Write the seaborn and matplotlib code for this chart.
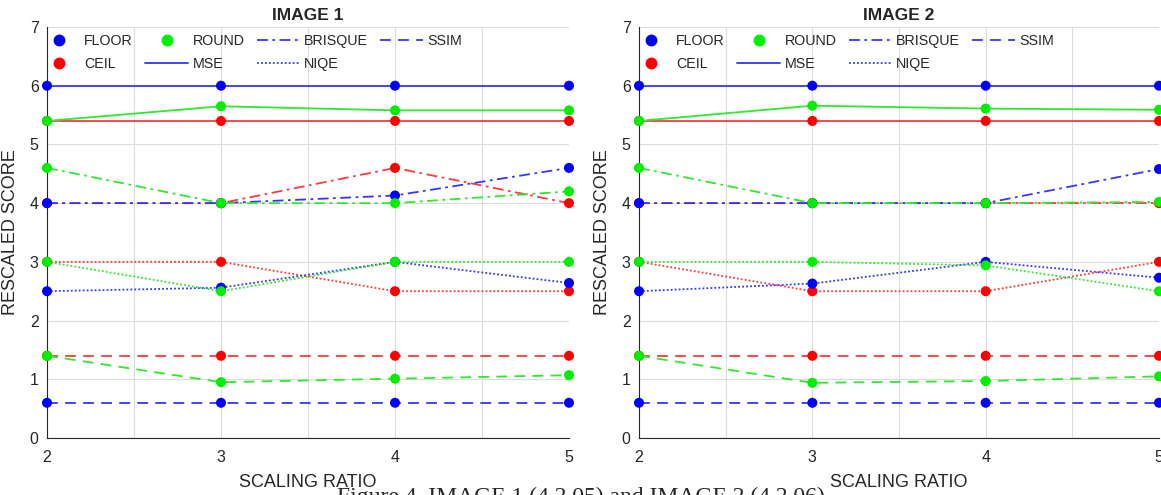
import numpy as np
import seaborn as sns
import pandas as pd
import matplotlib.pyplot as plt
from matplotlib.lines import Line2D
from matplotlib.ticker import MultipleLocator


# scaling ratios on x axis
ratios = [2, 3, 4, 5]

# IMAGE 1 (4.2.05)
img1_floor_mse = [6.0, 6.0, 6.0, 6.0]
img1_ceil_mse = [5.4, 5.4, 5.4, 5.4]
img1_round_mse = [5.4, 5.65, 5.58, 5.58]
img1_floor_brisque = [4.0, 4.0, 4.13, 4.6]
img1_ceil_brisque = [4.0, 4.0, 4.6, 4.0]
img1_round_brisque = [4.6, 4.0, 4.0, 4.2]
img1_floor_niqe = [2.5, 2.56, 3.0, 2.64]
img1_ceil_niqe = [3.0, 3.0, 2.5, 2.5]
img1_round_niqe = [3.0, 2.5, 3.0, 3.0]
img1_floor_ssim = [0.6, 0.6, 0.6, 0.6]
img1_ceil_ssim = [1.4, 1.4, 1.4, 1.4]
img1_round_ssim = [1.4, 0.95, 1.01, 1.07]

# IMAGE 2 (4.2.06)
img2_floor_mse = [6.0, 6.0, 6.0, 6.0]
img2_ceil_mse = [5.4, 5.4, 5.4, 5.4]
img2_round_mse = [5.4, 5.66, 5.61, 5.59]
img2_floor_brisque = [4.0, 4.0, 4.0, 4.58]
img2_ceil_brisque = [4.0, 4.0, 4.0, 4.0]
img2_round_brisque = [4.6, 4.0, 4.0, 4.02]
img2_floor_niqe = [2.5, 2.63, 3.0, 2.73]
img2_ceil_niqe = [3.0, 2.5, 2.5, 3.0]
img2_round_niqe = [3.0, 3.0, 2.94, 2.5]
img2_floor_ssim = [0.6, 0.6, 0.6, 0.6]
img2_ceil_ssim = [1.4, 1.4, 1.4, 1.4]
img2_round_ssim = [1.4, 0.94, 0.97, 1.05]

methods = ['FLOOR', 'CEIL', 'ROUND']
metrics = ['MSE', 'BRISQUE', 'NIQE', 'SSIM']
titles = ['IMAGE 1', 'IMAGE 2']

images = {
    'IMAGE 1': {
        'FLOOR': [img1_floor_mse, img1_floor_brisque, img1_floor_niqe, img1_floor_ssim],
        'CEIL': [img1_ceil_mse, img1_ceil_brisque, img1_ceil_niqe, img1_ceil_ssim],
        'ROUND': [img1_round_mse, img1_round_brisque, img1_round_niqe, img1_round_ssim],
    },
    'IMAGE 2': {
        'FLOOR': [img2_floor_mse, img2_floor_brisque, img2_floor_niqe, img2_floor_ssim],
        'CEIL': [img2_ceil_mse, img2_ceil_brisque, img2_ceil_niqe, img2_ceil_ssim],
        'ROUND': [img2_round_mse, img2_round_brisque, img2_round_niqe, img2_round_ssim],
    },
}

colors = {'FLOOR': '#0000ff', 'CEIL': '#ff0000', 'ROUND': '#00ee00'}
line_colors = {'FLOOR': '#3535ff', 'CEIL': '#ff3a3a', 'ROUND': '#30e830'}
styles = {'MSE': '-', 'BRISQUE': (0, (6, 2.5, 1.5, 2.5)), 'NIQE': (0, (1, 1.2)), 'SSIM': (0, (6, 4))}

sns.set_style('white')
plt.rcParams['font.family'] = ['Liberation Sans', 'DejaVu Sans']

fig = plt.figure(figsize=(11.61, 4.95), dpi=100)
ax1 = fig.add_axes([47 / 1161, 1 - 438 / 495, 522 / 1161, 411 / 495])
ax2 = fig.add_axes([639 / 1161, 1 - 438 / 495, 520 / 1161, 411 / 495])

for ax, title in zip([ax1, ax2], titles):
    # draw order so that ROUND ends up on top, FLOOR over CEIL
    for m in ['CEIL', 'FLOOR', 'ROUND']:
        for k, metric in enumerate(metrics):
            df = pd.DataFrame({'ratio': ratios, 'score': images[title][m][k]})
            sns.lineplot(data=df, x='ratio', y='score', ax=ax, color=line_colors[m],
                         linestyle=styles[metric], linewidth=1.3, zorder=2)
            sns.scatterplot(data=df, x='ratio', y='score', ax=ax, color=colors[m],
                            s=52, edgecolor='none', zorder=3, clip_on=False)

    ax.set_xlim(2, 5)
    ax.set_ylim(0, 7)
    ax.xaxis.set_major_locator(MultipleLocator(1))
    ax.xaxis.set_minor_locator(MultipleLocator(0.5))
    ax.yaxis.set_major_locator(MultipleLocator(1))
    ax.grid(True, which='both', axis='x', color='#dcdcdc', linewidth=0.8)
    ax.grid(True, which='major', axis='y', color='#dcdcdc', linewidth=0.8)
    ax.set_axisbelow(True)
    for s in ['top', 'right']:
        ax.spines[s].set_visible(False)
    for s in ['left', 'bottom']:
        ax.spines[s].set_color('#262626')
        ax.spines[s].set_linewidth(0.8)
    ax.tick_params(axis='both', which='both', direction='in', colors='#262626',
                   labelsize=11.5, length=4)
    ax.tick_params(axis='y', pad=6)
    ax.tick_params(axis='x', pad=9)
    ax.set_title(title, fontsize=12.5, fontweight='bold', pad=5)
    ax.set_xlabel('SCALING RATIO', fontsize=13, color='#262626', labelpad=6)
    ax.set_ylabel('RESCALED SCORE', fontsize=13, color='#262626', labelpad=8)

    handles = [
        Line2D([], [], color=colors['FLOOR'], marker='o', linestyle='none', markersize=7.5),
        Line2D([], [], color=colors['CEIL'], marker='o', linestyle='none', markersize=7.5),
        Line2D([], [], color=colors['ROUND'], marker='o', linestyle='none', markersize=7.5),
        Line2D([], [], color=line_colors['FLOOR'], linestyle=styles['MSE'], linewidth=1.3),
        Line2D([], [], color=line_colors['FLOOR'], linestyle=styles['BRISQUE'], linewidth=1.3),
        Line2D([], [], color=line_colors['FLOOR'], linestyle=styles['NIQE'], linewidth=1.3),
        Line2D([], [], color=line_colors['FLOOR'], linestyle=styles['SSIM'], linewidth=1.3),
    ]
    labels = ['FLOOR', 'CEIL', 'ROUND', 'MSE', 'BRISQUE', 'NIQE', 'SSIM']
    ax.legend(handles, labels, ncol=4, loc='upper left', bbox_to_anchor=(-0.03, 0.997),
              frameon=False, fontsize=10.3, handlelength=3.0, handletextpad=0.3,
              columnspacing=0.85, labelspacing=0.65, borderaxespad=0.0)

fig.text(0.5, 1 - 503 / 495, 'Figure 4. IMAGE 1 (4.2.05) and IMAGE 2 (4.2.06)',
         ha='center', va='baseline', fontsize=17, family=['Liberation Serif', 'DejaVu Serif'])

plt.savefig('out.png', dpi=100)
